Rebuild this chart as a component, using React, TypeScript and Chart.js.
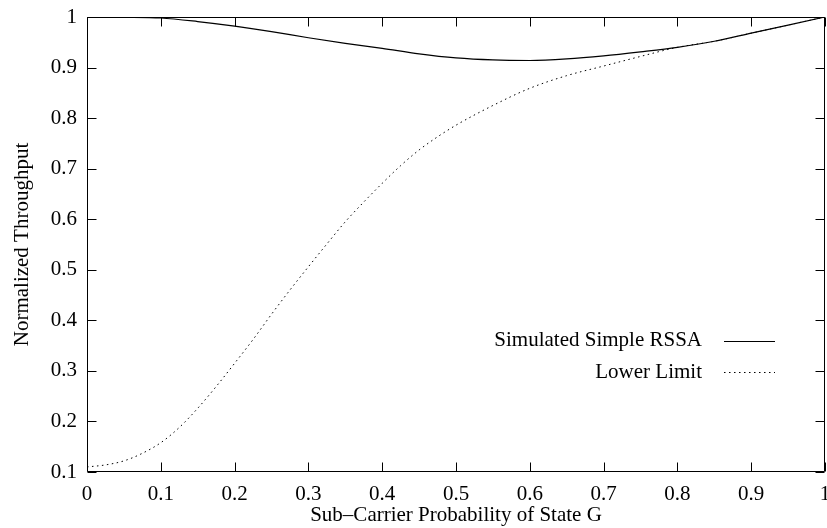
import React, { useEffect, useRef } from "react";
import { Chart, registerables } from "chart.js";

Chart.register(...registerables);

// Simulated Simple RSSA (solid)
const simX = [0, 0.05, 0.1, 0.15, 0.2, 0.25, 0.3, 0.35, 0.4, 0.45, 0.5, 0.55, 0.6, 0.65, 0.7, 0.75, 0.8, 0.85, 0.9, 0.95, 1.0];
const simY = [1.0, 0.9995, 0.998, 0.991, 0.982, 0.971, 0.959, 0.948, 0.938, 0.927, 0.919, 0.915, 0.914, 0.917, 0.923, 0.931, 0.94, 0.952, 0.968, 0.984, 1.0];

// Lower Limit (dotted)
const lowX = [0, 0.025, 0.05, 0.075, 0.1, 0.125, 0.15, 0.175, 0.2, 0.225, 0.25, 0.275, 0.3, 0.325, 0.35, 0.375, 0.4, 0.425, 0.45, 0.475, 0.5, 0.55, 0.6, 0.65, 0.7, 0.75, 0.8, 0.85, 0.9, 0.95, 1.0];
const lowY = [0.11, 0.114, 0.122, 0.137, 0.158, 0.188, 0.226, 0.269, 0.315, 0.362, 0.412, 0.46, 0.506, 0.551, 0.595, 0.634, 0.671, 0.706, 0.737, 0.763, 0.786, 0.825, 0.859, 0.884, 0.903, 0.922, 0.94, 0.952, 0.968, 0.984, 1.0];

const seriesNames = ["Simulated Simple RSSA", "Lower Limit"];
const xTitle = "Sub\u2013Carrier Probability of State G";
const yTitle = "Normalized Throughput";

const FONT = "Liberation Serif, Times New Roman, serif";
const FS = 21;

const fmt = (v: number) => String(Number(v.toFixed(1)));

const framePlugin = {
  id: "frameTicks",
  afterDraw(chart: any) {
    const { ctx, chartArea, scales } = chart;
    const { left, right, top, bottom } = chartArea;
    const L = Math.round(left) + 0.5;
    const R = Math.round(right) - 0.5;
    const T = Math.round(top) + 0.5;
    const B = Math.round(bottom) - 0.5;
    ctx.save();
    ctx.strokeStyle = "#000";
    ctx.lineWidth = 1;
    ctx.beginPath();
    ctx.rect(L, T, R - L, B - T);
    const tl = 9;
    scales.x.ticks.forEach((t: any) => {
      const px = Math.round(scales.x.getPixelForValue(t.value)) + 0.5;
      ctx.moveTo(px, B);
      ctx.lineTo(px, B - tl);
      ctx.moveTo(px, T);
      ctx.lineTo(px, T + tl);
    });
    scales.y.ticks.forEach((t: any) => {
      const py = Math.round(scales.y.getPixelForValue(t.value)) + 0.5;
      ctx.moveTo(L, py);
      ctx.lineTo(L + tl, py);
      ctx.moveTo(R, py);
      ctx.lineTo(R - tl, py);
    });
    ctx.stroke();

    // legend: text right-aligned, sample line to its right
    const textRight = right - 123;
    const lineStart = right - 101;
    const lineEnd = right - 50;
    const rows = [
      { y: top + 323.5, dash: [] as number[], name: seriesNames[0] },
      { y: top + 355, dash: [1.5, 3.5], name: seriesNames[1] },
    ];
    ctx.font = `${FS}px ${FONT}`;
    ctx.fillStyle = "#000";
    ctx.textAlign = "right";
    ctx.textBaseline = "middle";
    rows.forEach((r, i) => {
      ctx.fillText(r.name, textRight, r.y);
      ctx.beginPath();
      ctx.setLineDash(r.dash);
      ctx.lineWidth = i === 0 ? 1.2 : 1;
      ctx.moveTo(lineStart, Math.round(r.y) + 0.5);
      ctx.lineTo(lineEnd, Math.round(r.y) + 0.5);
      ctx.stroke();
    });
    ctx.setLineDash([]);
    ctx.restore();
  },
};

export default function App() {
  const ref = useRef<HTMLCanvasElement>(null);

  useEffect(() => {
    if (!ref.current) return;
    const chart = new Chart(ref.current, {
      type: "line",
      data: {
        datasets: [
          {
            label: seriesNames[0],
            data: simX.map((x, i) => ({ x, y: simY[i] })),
            borderColor: "#000",
            borderWidth: 1.2,
            pointRadius: 0,
            cubicInterpolationMode: "monotone",
            fill: false,
          },
          {
            label: seriesNames[1],
            data: lowX.map((x, i) => ({ x, y: lowY[i] })),
            borderColor: "#000",
            borderWidth: 1,
            borderDash: [1.5, 3.5],
            pointRadius: 0,
            cubicInterpolationMode: "monotone",
            fill: false,
          },
        ],
      },
      options: {
        responsive: false,
        animation: false,
        layout: { autoPadding: false, padding: { left: 0, right: 2, top: 17, bottom: 0 } },
        plugins: { legend: { display: false }, tooltip: { enabled: false } },
        scales: {
          x: {
            type: "linear",
            min: 0,
            max: 1,
            afterFit: (s: any) => {
              s.height = 56;
              s.paddingLeft = 0;
              s.paddingRight = 0;
            },
            grid: { display: false, drawTicks: false },
            border: { display: false },
            ticks: {
              stepSize: 0.1,
              color: "#000",
              font: { family: FONT, size: FS },
              padding: 10,
              maxRotation: 0,
              callback: (v: any) => fmt(Number(v)),
            },
            title: {
              display: true,
              text: xTitle,
              color: "#000",
              font: { family: FONT, size: FS },
              padding: { top: 0, bottom: 0 },
            },
          },
          y: {
            type: "linear",
            min: 0.1,
            max: 1,
            afterFit: (s: any) => {
              s.width = 87;
              s.paddingTop = 0;
              s.paddingBottom = 0;
            },
            grid: { display: false, drawTicks: false },
            border: { display: false },
            ticks: {
              stepSize: 0.1,
              color: "#000",
              font: { family: FONT, size: FS },
              padding: 10,
              callback: (v: any) => fmt(Number(v)),
            },
            title: {
              display: true,
              text: yTitle,
              color: "#000",
              font: { family: FONT, size: FS },
              padding: { top: 10, bottom: 0 },
            },
          },
        },
      },
      plugins: [framePlugin],
    });
    return () => chart.destroy();
  }, []);

  return (
    <div style={{ position: "fixed", left: 0, top: 0, width: 827, height: 528, background: "#fff" }}>
      <canvas ref={ref} width={827} height={528} style={{ display: "block" }} />
    </div>
  );
}
